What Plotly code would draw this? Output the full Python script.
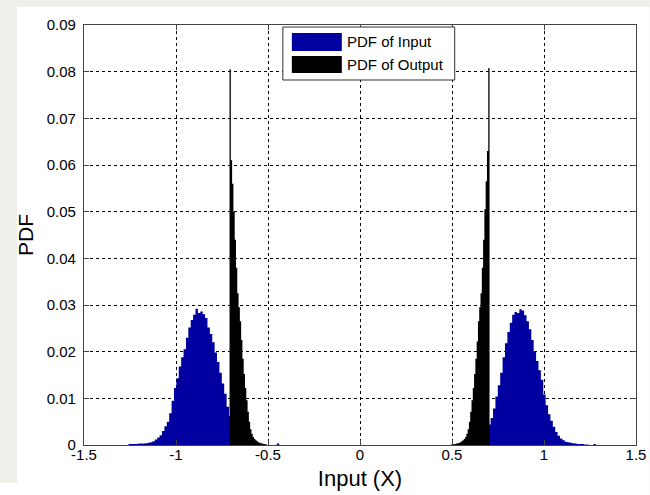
import numpy as np
import plotly.graph_objects as go

# ---------------- data ----------------
x_tick_vals = [-1.5, -1.0, -0.5, 0.0, 0.5, 1.0, 1.5]
x_tick_text = ["-1.5", "-1", "-0.5", "0", "0.5", "1", "1.5"]
y_tick_vals = [0, 0.01, 0.02, 0.03, 0.04, 0.05, 0.06, 0.07, 0.08, 0.09]
y_tick_text = ["0", "0.01", "0.02", "0.03", "0.04", "0.05", "0.06", "0.07", "0.08", "0.09"]

series_names = ["PDF of Input", "PDF of Output"]

# PDF of Input (histogram, bin width 0.013)
input_bin_width = 0.013
input_left_start = -1.258
input_left_pdf = [
    0.0002, 0.0002, 0.0002, 0.0002, 0.0003, 0.0003, 0.0003, 0.0004, 0.0005, 0.0006,
    0.0008, 0.0012, 0.0016, 0.0021, 0.0030, 0.0040, 0.0050, 0.0068, 0.0095, 0.0122,
    0.0143, 0.0168, 0.0188, 0.0205, 0.0230, 0.0252, 0.0268, 0.0279, 0.0292, 0.0283,
    0.0286, 0.0280, 0.0272, 0.0252, 0.0238, 0.0220, 0.0198, 0.0178, 0.0155, 0.0132,
    0.0110, 0.0082, 0.0062, 0.0045, 0.0032, 0.0022, 0.0015, 0.0010, 0.0007, 0.0004,
    0.0003, 0.0002, 0.0001, 0.0, 0.0, 0.0, 0.0, 0.0, 0.0, 0.0,
    0.0, 0.0, 0.0003,
]
input_right_start = 0.580
input_right_pdf = [
    0.0001, 0.0002, 0.0003, 0.0005, 0.0007, 0.0010, 0.0015, 0.0022, 0.0031, 0.0044,
    0.0058, 0.0078, 0.0104, 0.0128, 0.0155, 0.0188, 0.0218, 0.0242, 0.0262, 0.0279,
    0.0285, 0.0283, 0.0291, 0.0288, 0.0278, 0.0265, 0.0248, 0.0225, 0.0200, 0.0180,
    0.0160, 0.0140, 0.0108, 0.0085, 0.0066, 0.0052, 0.0039, 0.0028, 0.0020, 0.0014,
    0.0010, 0.0007, 0.0006, 0.0005, 0.0004, 0.0003, 0.0002, 0.0002, 0.0002, 0.0001,
    0.0001, 0.0, 0.0, 0.0002,
]

# PDF of Output (histogram, bin width 0.007)
output_bin_width = 0.007
output_left_start = -0.709
output_left_pdf = [
    0.0805, 0.0610, 0.0560, 0.0500, 0.0440, 0.0380, 0.0325, 0.0295, 0.0265, 0.0225,
    0.0185, 0.0152, 0.0122, 0.0096, 0.0071, 0.0050, 0.0034, 0.0024, 0.0017, 0.0013,
    0.0010, 0.0008, 0.0006, 0.0005, 0.0004, 0.0003, 0.0002, 0.0002, 0.0001,
]
output_right_start = 0.494
output_right_pdf = [
    0.0001, 0.0001, 0.0002, 0.0002, 0.0003, 0.0004, 0.0005, 0.0006, 0.0008, 0.0010,
    0.0013, 0.0017, 0.0024, 0.0034, 0.0050, 0.0071, 0.0096, 0.0122, 0.0152, 0.0185,
    0.0222, 0.0265, 0.0295, 0.0325, 0.0380, 0.0440, 0.0505, 0.0565, 0.0630, 0.0808,
]

# ---------------- styling ----------------
W, H = 650, 495
ML, MR, MT, MB = 84, 13.6, 25, 50
PW, PH = W - ML - MR, H - MT - MB
FONT = "Arial, 'Liberation Sans', sans-serif"
BLUE = "#0000a0"
BLACK = "#000000"


def px(xp):
    return (xp - ML) / PW


def py(yp):
    return (H - MB - yp) / PH


def step_trace(start, width, values, color, name):
    edges = start + width * np.arange(len(values) + 1)
    yv = list(values) + [values[-1]]
    return go.Scatter(
        x=edges, y=yv, mode="lines", line=dict(width=0, color=color, shape="hv"),
        fill="tozeroy", fillcolor=color, name=name, showlegend=False,
        hoverinfo="skip",
    )


fig = go.Figure()
fig.add_trace(step_trace(input_left_start, input_bin_width, input_left_pdf, BLUE, series_names[0]))
fig.add_trace(step_trace(input_right_start, input_bin_width, input_right_pdf, BLUE, series_names[0]))
fig.add_trace(step_trace(output_left_start, output_bin_width, output_left_pdf, BLACK, series_names[1]))
fig.add_trace(step_trace(output_right_start, output_bin_width, output_right_pdf, BLACK, series_names[1]))

axis_common = dict(
    showgrid=True, gridcolor="#000000", gridwidth=1, griddash="3px,3px",
    zeroline=False, showline=True, linecolor="#444444", linewidth=1.3,
    mirror="ticks", ticks="inside", ticklen=5, tickcolor="#444444",
    tickfont=dict(family=FONT, size=15, color="#000000"),
    automargin=False,
)

fig.update_xaxes(
    range=[-1.5, 1.5], tickvals=x_tick_vals, ticktext=x_tick_text,
    ticklabelstandoff=-4,
    title=dict(text="Input (X)", font=dict(family=FONT, size=22, color="#000000"), standoff=8),
    **axis_common,
)
fig.update_yaxes(
    range=[0, 0.09], tickvals=y_tick_vals, ticktext=y_tick_text,
    ticklabelstandoff=4,
    title=dict(text="PDF", font=dict(family=FONT, size=21, color="#000000"), standoff=7),
    **axis_common,
)

shapes = [
    # white figure panel over grey page background
    dict(type="rect", xref="paper", yref="paper", layer="below",
         x0=px(17), x1=px(W), y0=py(H), y1=py(7),
         fillcolor="#ffffff", line=dict(width=0)),
    dict(type="rect", xref="paper", yref="paper", layer="below",
         x0=px(0), x1=px(17), y0=py(H), y1=py(483),
         fillcolor="#ffffff", line=dict(width=0)),
    # legend box
    dict(type="rect", xref="paper", yref="paper", layer="above",
         x0=px(283), x1=px(455), y0=py(80), y1=py(27),
         fillcolor="#ffffff", line=dict(width=1, color="#333333")),
    dict(type="rect", xref="paper", yref="paper", layer="above",
         x0=px(292), x1=px(342), y0=py(51), y1=py(33),
         fillcolor=BLUE, line=dict(width=0)),
    dict(type="rect", xref="paper", yref="paper", layer="above",
         x0=px(292), x1=px(342), y0=py(73), y1=py(56),
         fillcolor=BLACK, line=dict(width=0)),
]

annotations = [
    dict(xref="paper", yref="paper", x=px(345), y=py(42), text=series_names[0],
         showarrow=False, xanchor="left", yanchor="middle",
         font=dict(family=FONT, size=15, color="#000000")),
    dict(xref="paper", yref="paper", x=px(345), y=py(64), text=series_names[1],
         showarrow=False, xanchor="left", yanchor="middle",
         font=dict(family=FONT, size=15, color="#000000")),
]

fig.update_layout(
    width=W, height=H,
    margin=dict(l=ML, r=MR, t=MT, b=MB, pad=0),
    paper_bgcolor="#efefea", plot_bgcolor="#ffffff",
    shapes=shapes, annotations=annotations,
    showlegend=False,
)

fig.write_html("out.html")
